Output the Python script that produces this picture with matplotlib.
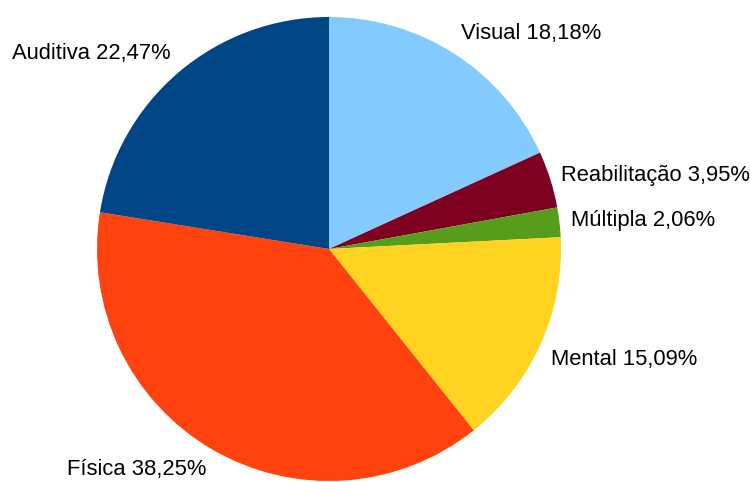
import matplotlib
matplotlib.use("Agg")
import matplotlib.pyplot as plt
import numpy as np

categories = ["Visual", "Reabilitação", "Múltipla", "Mental", "Física", "Auditiva"]
values = [18.18, 3.95, 2.06, 15.09, 38.25, 22.47]
colors = ["#83caff", "#7e0021", "#579d1c", "#ffd320", "#ff420e", "#004586"]

labels = [f"{c} {v:.2f}%".replace(".", ",") for c, v in zip(categories, values)]

plt.rcParams["font.family"] = ["Liberation Sans", "DejaVu Sans"]

fig = plt.figure(figsize=(7.5, 4.82), dpi=100)
ax = fig.add_axes([0, 0, 1, 1])
ax.set_xlim(0, 750)
ax.set_ylim(0, 482)
ax.set_aspect("equal")

cx, cy, radius = 329, 233, 232
wedges, _ = ax.pie(
    values,
    colors=colors,
    startangle=90,
    counterclock=False,
    center=(cx, cy),
    radius=radius,
    wedgeprops={"linewidth": 0},
    frame=True,
)
ax.axis("off")

# Place each label so that its nearest corner sits just outside the rim
label_r = radius * 1.05
for w, lab in zip(wedges, labels):
    ang = np.deg2rad((w.theta1 + w.theta2) / 2)
    c, s = np.cos(ang), np.sin(ang)
    ha = "left" if c >= 0 else "right"
    if abs(s) < 0.36:
        va = "center"
    else:
        va = "bottom" if s > 0 else "top"
    ax.text(cx + label_r * c, cy + label_r * s, lab, ha=ha, va=va,
            fontsize=15.8, color="black")

fig.savefig("out.png", dpi=100)
